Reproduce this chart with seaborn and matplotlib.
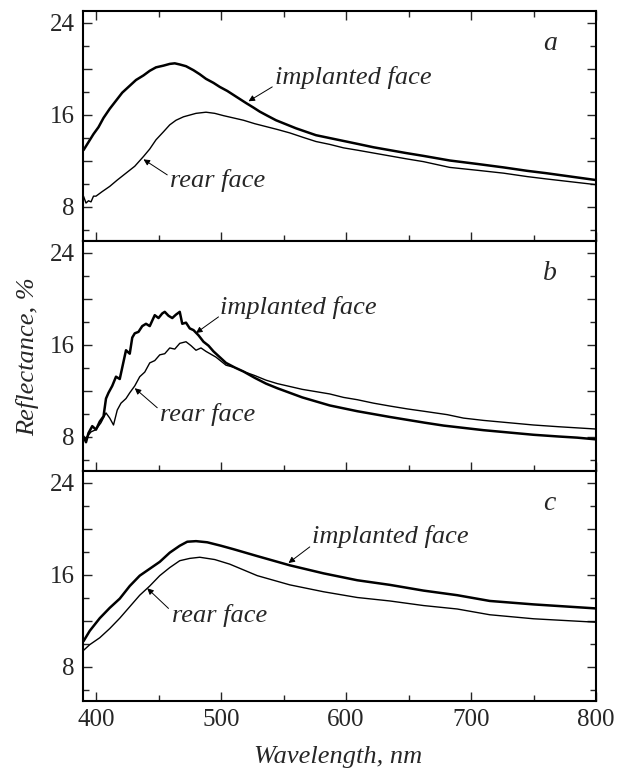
import numpy as np
import pandas as pd
import matplotlib
matplotlib.use("Agg")
import matplotlib.pyplot as plt
import seaborn as sns

# ---------------- data ----------------
# Panel a
a_impl_wl = [390, 394, 398, 402, 406, 411, 416, 421, 427, 432, 438, 443, 448, 454, 459, 463, 467, 472, 478, 483, 488, 494, 499, 505, 510, 515, 520, 526, 531, 537, 544, 552, 560, 568, 576, 587, 598, 609, 622, 635, 648, 662, 683, 705, 726, 745, 760, 780, 800]
a_impl_R = [12.9, 13.6, 14.3, 14.9, 15.7, 16.5, 17.2, 17.9, 18.5, 19.0, 19.4, 19.8, 20.1, 20.25, 20.4, 20.45, 20.35, 20.2, 19.85, 19.5, 19.1, 18.75, 18.4, 18.05, 17.7, 17.35, 17.0, 16.6, 16.25, 15.9, 15.5, 15.15, 14.8, 14.5, 14.2, 13.95, 13.7, 13.45, 13.15, 12.9, 12.65, 12.4, 12.0, 11.7, 11.4, 11.1, 10.9, 10.6, 10.3]
a_rear_wl = [390, 392, 394, 396, 398, 400, 405, 411, 417, 424, 431, 438, 443, 448, 454, 459, 464, 470, 475, 480, 488, 495, 502, 510, 518, 527, 536, 545, 555, 566, 576, 587, 598, 609, 622, 635, 648, 662, 683, 705, 726, 745, 760, 780, 800]
a_rear_R = [8.9, 8.3, 8.5, 8.4, 8.9, 8.9, 9.3, 9.75, 10.3, 10.9, 11.5, 12.35, 13.0, 13.8, 14.5, 15.1, 15.5, 15.8, 15.95, 16.1, 16.2, 16.1, 15.9, 15.7, 15.5, 15.2, 14.95, 14.7, 14.4, 14.0, 13.65, 13.4, 13.1, 12.9, 12.65, 12.4, 12.15, 11.9, 11.4, 11.15, 10.9, 10.6, 10.4, 10.15, 9.9]

# Panel b
b_impl_wl = [390, 392, 394, 397, 400, 403, 406, 408, 410, 413, 416, 419, 422, 424, 427, 429, 431, 434, 437, 440, 443, 447, 450, 453, 455, 458, 461, 464, 467, 469, 472, 475, 478, 482, 486, 490, 494, 499, 504, 511, 518, 527, 536, 545, 555, 565, 576, 587, 598, 609, 622, 635, 649, 663, 678, 694, 710, 730, 750, 770, 785, 800]
b_impl_R = [8.0, 7.5, 8.3, 8.9, 8.6, 9.3, 9.75, 11.3, 11.8, 12.4, 13.2, 13.0, 14.5, 15.5, 15.2, 16.6, 16.97, 17.1, 17.6, 17.8, 17.6, 18.55, 18.3, 18.7, 18.84, 18.5, 18.3, 18.6, 18.84, 17.8, 17.9, 17.4, 17.25, 16.8, 16.24, 15.9, 15.4, 14.9, 14.4, 14.0, 13.65, 13.1, 12.6, 12.2, 11.8, 11.4, 11.05, 10.7, 10.45, 10.2, 9.95, 9.7, 9.45, 9.2, 8.95, 8.75, 8.55, 8.35, 8.15, 8.0, 7.9, 7.75]
b_rear_wl = [390, 393, 396, 400, 404, 408, 411, 414, 417, 420, 424, 427, 431, 435, 439, 443, 447, 451, 455, 459, 463, 467, 472, 476, 480, 484, 488, 496, 504, 511, 518, 527, 536, 545, 555, 565, 576, 587, 598, 609, 622, 635, 649, 662, 681, 694, 710, 730, 750, 770, 785, 800]
b_rear_R = [7.7, 8.0, 8.4, 8.6, 9.2, 10.05, 9.6, 9.0, 10.3, 10.9, 11.3, 11.8, 12.4, 13.2, 13.6, 14.4, 14.6, 15.1, 15.2, 15.7, 15.6, 16.1, 16.24, 15.9, 15.5, 15.7, 15.4, 14.9, 14.2, 14.0, 13.65, 13.3, 12.9, 12.6, 12.35, 12.1, 11.9, 11.7, 11.4, 11.2, 10.9, 10.65, 10.4, 10.2, 9.9, 9.6, 9.4, 9.2, 9.0, 8.85, 8.75, 8.65]

# Panel c
c_impl_wl = [390, 395, 403, 411, 419, 427, 435, 443, 451, 459, 467, 473, 480, 489, 500, 510, 529, 555, 582, 609, 635, 662, 689, 715, 750, 800]
c_impl_R = [10.2, 11.1, 12.2, 13.1, 13.9, 15.0, 15.9, 16.5, 17.1, 17.9, 18.5, 18.85, 18.9, 18.8, 18.5, 18.2, 17.6, 16.8, 16.1, 15.5, 15.1, 14.6, 14.2, 13.7, 13.4, 13.05]
c_rear_wl = [390, 395, 403, 411, 419, 427, 435, 443, 451, 459, 467, 475, 483, 495, 507, 518, 529, 542, 555, 582, 609, 635, 662, 689, 715, 750, 800]
c_rear_R = [9.4, 9.9, 10.5, 11.3, 12.2, 13.2, 14.2, 15.0, 15.9, 16.6, 17.2, 17.4, 17.5, 17.3, 16.9, 16.4, 15.9, 15.5, 15.1, 14.5, 14.0, 13.7, 13.3, 13.0, 12.5, 12.15, 11.85]

panel_letters = ["a", "b", "c"]
series_names = ["implanted face", "rear face"]
x_ticks = [400, 500, 600, 700, 800]
y_ticks = [8, 12, 16, 20, 24]
y_ticklabels = ["8", "", "16", "", "24"]
x_label = "Wavelength, nm"
y_label = "Reflectance, %"

# ---------------- style ----------------
sns.set_style("ticks")
plt.rcParams["font.family"] = ["Liberation Serif", "DejaVu Serif"]

W, H = 618, 772
fig = plt.figure(figsize=(W / 100, H / 100), dpi=100)

left = 83 / W
width = (596 - 83) / W
ph = 230 / H
tops = [11, 241, 471]

panels = [
    (a_impl_wl, a_impl_R, a_rear_wl, a_rear_R),
    (b_impl_wl, b_impl_R, b_rear_wl, b_rear_R),
    (c_impl_wl, c_impl_R, c_rear_wl, c_rear_R),
]

# annotation positions (data coords): text (x,y), arrow tail, arrow head
ann = [
    {"impl": ((543, 19.2), (541, 18.4), (522, 17.15)),
     "rear": ((459, 10.3), (457, 10.75), (438, 12.1))},
    {"impl": ((499, 19.2), (498, 18.4), (480, 17.0)),
     "rear": ((451, 9.9), (449, 10.5), (431, 12.2))},
    {"impl": ((573, 19.3), (571, 18.4), (554, 17.0)),
     "rear": ((461, 12.45), (458, 13.05), (441, 14.8))},
]

fs = 18
afs = 19
axes = []
for i, (iw, ir, rw, rr) in enumerate(panels):
    bottom = 1 - (tops[i] + 230) / H
    ax = fig.add_axes([left, bottom, width, ph])
    axes.append(ax)
    df_i = pd.DataFrame({"wl": iw, "R": ir})
    df_r = pd.DataFrame({"wl": rw, "R": rr})
    sns.lineplot(data=df_i, x="wl", y="R", ax=ax, color="black", lw=1.8,
                 estimator=None, sort=False)
    sns.lineplot(data=df_r, x="wl", y="R", ax=ax, color="black", lw=1.0,
                 estimator=None, sort=False)
    ax.set_xlim(389.6, 800)
    ax.set_ylim(5, 25)
    ax.set_yticks(y_ticks)
    ax.set_yticklabels(y_ticklabels)
    ax.set_yticks(np.arange(6, 25, 4), minor=True)
    ax.set_xticks(x_ticks)
    ax.set_xticks([450, 550, 650, 750], minor=True)
    ax.tick_params(axis="both", which="major", direction="in", length=6.5,
                   width=1.0, labelsize=fs, pad=6, right=True,
                   top=(i == 0), left=True, bottom=True)
    ax.tick_params(axis="both", which="minor", direction="in", length=4,
                   width=1.0, right=True, top=(i == 0), left=True, bottom=True)
    if i < 2:
        ax.tick_params(axis="x", labelbottom=False)
    for s in ax.spines.values():
        s.set_visible(True)
        s.set_linewidth(1.5)
        s.set_color("black")
    ax.set_xlabel("")
    ax.set_ylabel("")

    (t1, a1, h1) = ann[i]["impl"]
    ax.text(t1[0], t1[1], series_names[0], fontsize=afs, style="italic",
            ha="left", va="center")
    ax.annotate("", xy=h1, xytext=a1,
                arrowprops=dict(arrowstyle="-|>", color="black", lw=0.7,
                                mutation_scale=9, shrinkA=0, shrinkB=0))
    (t2, a2, h2) = ann[i]["rear"]
    ax.text(t2[0], t2[1], series_names[1], fontsize=afs, style="italic",
            ha="left", va="center")
    ax.annotate("", xy=h2, xytext=a2,
                arrowprops=dict(arrowstyle="-|>", color="black", lw=0.7,
                                mutation_scale=9, shrinkA=0, shrinkB=0))
    ax.text(763, 22.2, panel_letters[i], fontsize=afs + 1, style="italic",
            ha="center", va="center")

fig.text(28 / W, 1 - 357 / H, y_label, rotation=90, fontsize=19,
         style="italic", ha="center", va="center")
fig.text(338 / W, 1 - 757 / H, x_label, fontsize=19, style="italic",
         ha="center", va="center")

fig.savefig("out.png", dpi=100)
